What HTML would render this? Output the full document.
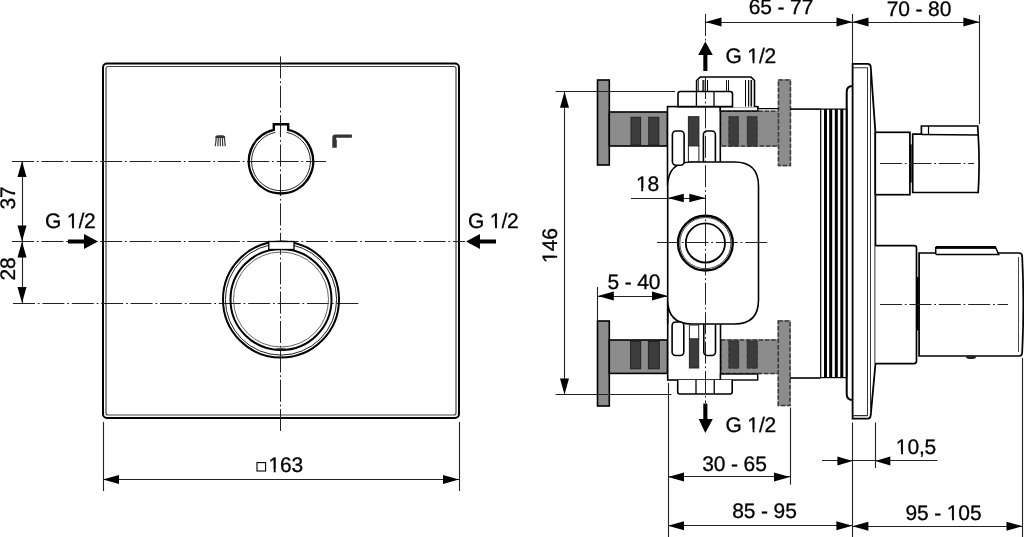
<!DOCTYPE html>
<html><head><meta charset="utf-8"><style>
html,body{margin:0;padding:0;background:#fff;width:1024px;height:537px;overflow:hidden}
svg{display:block;will-change:transform}
text{font-family:"Liberation Sans",sans-serif;fill:#000;stroke:#000;stroke-width:0.3px;letter-spacing:-0.15px;text-rendering:geometricPrecision}
</style></head><body>
<svg width="1024" height="537" viewBox="0 0 1024 537">
<rect x="103" y="63.5" width="356" height="354.5" rx="4" fill="none" stroke="#000" stroke-width="2" />
<rect x="106" y="66.5" width="350" height="348.5" rx="2" fill="none" stroke="#444" stroke-width="1.2" />
<line x1="12" y1="161.5" x2="326" y2="161.5" stroke="#222" stroke-width="1" stroke-dasharray="22 2.8 1.8 2.8" stroke-dashoffset="0"/>
<line x1="12" y1="241.5" x2="465" y2="241.5" stroke="#222" stroke-width="1" stroke-dasharray="22 2.8 1.8 2.8" stroke-dashoffset="0"/>
<line x1="13" y1="303.5" x2="360" y2="303.5" stroke="#222" stroke-width="1" stroke-dasharray="22 2.8 1.8 2.8" stroke-dashoffset="0"/>
<line x1="280.5" y1="56.4" x2="280.5" y2="431" stroke="#222" stroke-width="1" stroke-dasharray="22 2.8 1.8 2.8" stroke-dashoffset="0"/>
<path d="M273.8,129.91529034704956 L273.8,124.2 L288.2,124.2 L288.2,129.91529034704956 A32.2,32.2 0 1 1 273.8,129.91529034704956 Z" fill="none" stroke="#000" stroke-width="2.4"/>
<path d="M286.6,132.43826062067637 A29.4,29.4 0 1 1 275.4,132.43826062067637" fill="none" stroke="#222" stroke-width="1"/>
<circle cx="281" cy="299.5" r="58" fill="none" stroke="#000" stroke-width="2"/>
<circle cx="281" cy="299.5" r="55.6" fill="none" stroke="#222" stroke-width="1"/>
<circle cx="281" cy="299.5" r="50.5" fill="none" stroke="#000" stroke-width="2"/>
<circle cx="281" cy="299.5" r="47.5" fill="none" stroke="#555" stroke-width="0.9"/>
<rect x="268.8" y="241.5" width="25.19999999999999" height="8.0" rx="0" fill="#fff" stroke="#000" stroke-width="1.3" />
<ellipse cx="281" cy="349.6" rx="6" ry="1.4" fill="#111"/>
<path d="M215.2,138 Q215.2,135.2 218,135.2 H222.5 Q225.3,135.2 225.3,138 Z" fill="#333"/>
<line x1="216.3" y1="137.6" x2="215.3" y2="146.2" stroke="#333" stroke-width="1.15"/>
<line x1="218.3" y1="137.6" x2="217.8" y2="146.2" stroke="#333" stroke-width="1.15"/>
<line x1="220.3" y1="137.6" x2="220.3" y2="146.2" stroke="#333" stroke-width="1.15"/>
<line x1="222.3" y1="137.6" x2="222.8" y2="146.2" stroke="#333" stroke-width="1.15"/>
<line x1="224.3" y1="137.6" x2="225.3" y2="146.2" stroke="#333" stroke-width="1.15"/>
<path d="M332.3,147.7 V137.4 Q332.3,134.4 335.3,134.4 H351.9 V137.8 H336.2 V139.8 H336.8 V147.7 Z" fill="#333"/>
<line x1="22.5" y1="161" x2="22.5" y2="303" stroke="#222" stroke-width="1.1" />
<polygon points="22,161 17.5,177 26.5,177" fill="#000"/>
<polygon points="22,241.5 17.5,225.5 26.5,225.5" fill="#000"/>
<polygon points="22,241.5 17.5,257.5 26.5,257.5" fill="#000"/>
<polygon points="22,303 17.5,287 26.5,287" fill="#000"/>
<text x="15" y="198" text-anchor="middle" font-size="21" transform="rotate(-90 15 198)">37</text>
<text x="15" y="269" text-anchor="middle" font-size="21" transform="rotate(-90 15 269)">28</text>
<text x="45" y="228" text-anchor="start" font-size="21">G 1/2</text>
<path d="M68,239.5 H84 V234 L98,241.5 L84,249 V243.5 H68 Z" fill="#000"/>
<text x="468" y="227.5" text-anchor="start" font-size="21">G 1/2</text>
<path d="M496,239.5 H480 V234 L466,241.5 L480,249 V243.5 H496 Z" fill="#000"/>
<line x1="103.5" y1="422" x2="103.5" y2="491" stroke="#222" stroke-width="1.1" />
<line x1="459.5" y1="422" x2="459.5" y2="491" stroke="#222" stroke-width="1.1" />
<line x1="103" y1="479.5" x2="459" y2="479.5" stroke="#222" stroke-width="1.1" />
<polygon points="103,479.5 119,475.0 119,484.0" fill="#000"/>
<polygon points="459,479.5 443,475.0 443,484.0" fill="#000"/>
<rect x="257" y="462.6" width="8.600000000000023" height="8.399999999999977" rx="0" fill="none" stroke="#000" stroke-width="1.1" />
<text x="268.5" y="471.5" text-anchor="start" font-size="21">163</text>
<line x1="705.5" y1="22.5" x2="852.5" y2="22.5" stroke="#222" stroke-width="1.1" />
<polygon points="705.5,22 721.5,17.5 721.5,26.5" fill="#000"/>
<polygon points="852.5,22 836.5,17.5 836.5,26.5" fill="#000"/>
<text x="781" y="14" text-anchor="middle" font-size="21">65 - 77</text>
<line x1="852.5" y1="22.5" x2="979.4" y2="22.5" stroke="#222" stroke-width="1.1" />
<polygon points="852.5,22 868.5,17.5 868.5,26.5" fill="#000"/>
<polygon points="979.4,22 963.4,17.5 963.4,26.5" fill="#000"/>
<text x="919" y="15.5" text-anchor="middle" font-size="21">70 - 80</text>
<line x1="852.5" y1="14" x2="852.5" y2="63" stroke="#222" stroke-width="1.1" />
<line x1="979.5" y1="15" x2="979.5" y2="124" stroke="#222" stroke-width="1.1" />
<line x1="705.5" y1="14" x2="705.5" y2="72" stroke="#222" stroke-width="1" stroke-dasharray="22 2.8 1.8 2.8" stroke-dashoffset="0"/>
<path d="M703.3,71 V55 H698.2 L705.3,41.4 L712.8,55 H707.4 V71 Z" fill="#000"/>
<text x="725.5" y="63.2" text-anchor="start" font-size="21">G 1/2</text>
<line x1="564.5" y1="91.7" x2="564.5" y2="394.5" stroke="#222" stroke-width="1.1" />
<polygon points="564.5,91.7 560.0,107.7 569.0,107.7" fill="#000"/>
<polygon points="564.5,394.5 560.0,378.5 569.0,378.5" fill="#000"/>
<text x="557.3" y="245.6" text-anchor="middle" font-size="21" transform="rotate(-90 557.3 245.6)">146</text>
<rect x="597.5" y="80" width="11.799999999999955" height="85" rx="0" fill="#8c8c8c" stroke="#000" stroke-width="1.6" />
<rect x="597.5" y="321" width="11.799999999999955" height="85" rx="0" fill="#8c8c8c" stroke="#000" stroke-width="1.6" />
<rect x="609.3" y="112" width="58.200000000000045" height="34" rx="0" fill="#8c8c8c" stroke="#000" stroke-width="1.6" />
<rect x="631" y="117.3" width="9.600000000000023" height="27.700000000000003" rx="0" fill="#3c3c3c" stroke="#222" stroke-width="1" />
<rect x="648.8" y="117.3" width="10.0" height="27.700000000000003" rx="0" fill="#3c3c3c" stroke="#222" stroke-width="1" />
<rect x="609.3" y="340" width="58.200000000000045" height="33.39999999999998" rx="0" fill="#8c8c8c" stroke="#000" stroke-width="1.6" />
<rect x="630.6" y="341.4" width="10.100000000000023" height="27.400000000000034" rx="0" fill="#3c3c3c" stroke="#222" stroke-width="1" />
<rect x="648.4" y="341.4" width="10.899999999999977" height="27.400000000000034" rx="0" fill="#3c3c3c" stroke="#222" stroke-width="1" />
<rect x="719.75" y="110.55" width="59.5" height="36.2" fill="#8c8c8c"/>
<rect x="720.5" y="111.3" width="58.0" height="34.7" rx="0" fill="none" stroke="#3a3a3a" stroke-width="1.5" stroke-dasharray="4.5 1.8"/>
<rect x="728.5" y="116.3" width="10.299999999999955" height="30.200000000000003" fill="#3c3c3c"/>
<rect x="729" y="116.8" width="9.299999999999955" height="29.200000000000003" rx="0" fill="none" stroke="#333" stroke-width="1" stroke-dasharray="4.5 1.8"/>
<rect x="746.9" y="116.3" width="10.600000000000023" height="30.200000000000003" fill="#3c3c3c"/>
<rect x="747.4" y="116.8" width="9.600000000000023" height="29.200000000000003" rx="0" fill="none" stroke="#333" stroke-width="1" stroke-dasharray="4.5 1.8"/>
<rect x="720.05" y="339.25" width="59.0" height="34.89999999999998" fill="#8c8c8c"/>
<rect x="720.8" y="340" width="57.5" height="33.39999999999998" rx="0" fill="none" stroke="#3a3a3a" stroke-width="1.5" stroke-dasharray="4.5 1.8"/>
<rect x="728.5" y="340.5" width="10.600000000000023" height="28" fill="#3c3c3c"/>
<rect x="729" y="341" width="9.600000000000023" height="27" rx="0" fill="none" stroke="#333" stroke-width="1" stroke-dasharray="4.5 1.8"/>
<rect x="746.8" y="340.5" width="10.900000000000091" height="28" fill="#3c3c3c"/>
<rect x="747.3" y="341" width="9.900000000000091" height="27" rx="0" fill="none" stroke="#333" stroke-width="1" stroke-dasharray="4.5 1.8"/>
<rect x="777.75" y="79.25" width="13.399999999999977" height="87.1" fill="#8c8c8c"/>
<rect x="778.5" y="80" width="11.899999999999977" height="85.6" rx="0" fill="none" stroke="#3a3a3a" stroke-width="1.5" stroke-dasharray="4.5 1.8"/>
<rect x="777.55" y="320.25" width="13.200000000000045" height="85.89999999999998" fill="#8c8c8c"/>
<rect x="778.3" y="321" width="11.700000000000045" height="84.39999999999998" rx="0" fill="none" stroke="#3a3a3a" stroke-width="1.5" stroke-dasharray="4.5 1.8"/>
<rect x="667.5" y="106.6" width="52.799999999999955" height="78.4" rx="0" fill="#fff" stroke="#000" stroke-width="1.6" />
<rect x="720.3" y="106.6" width="37.60000000000002" height="4.400000000000006" rx="0" fill="#fff" stroke="#000" stroke-width="1.4" />
<path d="M757.9,106.6 V108.6 H778.5" fill="none" stroke="#000" stroke-width="1.4"/>
<line x1="790.4" y1="109.1" x2="820.7" y2="109.1" stroke="#000" stroke-width="1.6" />
<rect x="688.4" y="116.7" width="10.5" height="29.200000000000003" rx="0" fill="#3c3c3c" stroke="#222" stroke-width="1" />
<rect x="688.4" y="145.9" width="10.5" height="16.099999999999994" rx="0" fill="#fff" stroke="#222" stroke-width="1" />
<path d="M696.6,107 V80.5 L700.3,77 H751 L754.5,80.5 V107" fill="#fff" stroke="#000" stroke-width="1.6"/>
<line x1="698.5" y1="80" x2="698.5" y2="106.6" stroke="#222" stroke-width="0.8" />
<line x1="703.4" y1="80" x2="703.4" y2="106.6" stroke="#333" stroke-width="2.2" />
<line x1="707.5" y1="80" x2="707.5" y2="106.6" stroke="#000" stroke-width="1.1" />
<line x1="726.5" y1="80" x2="726.5" y2="106.6" stroke="#111" stroke-width="1" />
<line x1="728.5" y1="80" x2="728.5" y2="106.6" stroke="#111" stroke-width="1" />
<line x1="745.5" y1="80" x2="745.5" y2="106.6" stroke="#000" stroke-width="1" />
<line x1="748.6" y1="80" x2="748.6" y2="106.6" stroke="#111" stroke-width="1.3" />
<line x1="751.3" y1="80" x2="751.3" y2="106.6" stroke="#111" stroke-width="1.6" />
<path d="M678,106.6 V94 Q678,91.5 680.5,91.5 H730 Q732.5,91.5 732.5,94 V106.6 Z" fill="#fff" stroke="#000" stroke-width="1.6"/>
<line x1="696.4" y1="91.5" x2="696.4" y2="106.6" stroke="#000" stroke-width="1.3" />
<line x1="714" y1="91.5" x2="714" y2="106.6" stroke="#000" stroke-width="1.3" />
<rect x="667.7" y="300" width="52.799999999999955" height="80" rx="0" fill="#fff" stroke="#000" stroke-width="1.6" />
<rect x="703.4" y="131" width="12.0" height="44" rx="3.5" fill="#fff" stroke="#000" stroke-width="1.6" />
<rect x="703.8" y="310" width="11.700000000000045" height="45.5" rx="3.5" fill="#fff" stroke="#000" stroke-width="1.6" />
<path d="M667.7,324 V186 Q667.7,162 692,162 H734.5 Q758.5,162 758.5,186 V300 Q758.5,324 734.5,324 H692 Q667.7,324 667.7,300 Z" fill="#fff" stroke="#000" stroke-width="1.6"/>
<rect x="672.4" y="131" width="11.700000000000045" height="34.19999999999999" rx="3.5" fill="#fff" stroke="#000" stroke-width="1.6" />
<circle cx="705.4" cy="243.1" r="27.4" fill="none" stroke="#000" stroke-width="2.4"/>
<circle cx="705.4" cy="243.1" r="25.6" fill="none" stroke="#333" stroke-width="0.9"/>
<circle cx="705.4" cy="242.9" r="19.6" fill="none" stroke="#000" stroke-width="1.8"/>
<line x1="657" y1="242.5" x2="767.5" y2="242.5" stroke="#222" stroke-width="1" stroke-dasharray="22 2.8 1.8 2.8" stroke-dashoffset="0"/>
<rect x="720.5" y="374" width="37.200000000000045" height="6" rx="0" fill="#fff" stroke="#000" stroke-width="1.4" />
<line x1="790" y1="378" x2="820.6" y2="378" stroke="#000" stroke-width="1.6" />
<rect x="689.4" y="325" width="9.300000000000068" height="14" rx="0" fill="#fff" stroke="#222" stroke-width="1" />
<rect x="689.4" y="339" width="9.300000000000068" height="29" rx="0" fill="#3c3c3c" stroke="#222" stroke-width="1" />
<rect x="672.1" y="322" width="11.699999999999932" height="33.5" rx="3.5" fill="#fff" stroke="#000" stroke-width="1.6" />
<path d="M677.7,380 V392 Q677.7,394 679.7,394 H730.2 Q732.2,394 732.2,392 V380" fill="#fff" stroke="#000" stroke-width="1.6"/>
<line x1="696" y1="380" x2="696" y2="394" stroke="#000" stroke-width="1.3" />
<line x1="714.2" y1="380" x2="714.2" y2="394" stroke="#000" stroke-width="1.3" />
<line x1="705.5" y1="77" x2="705.5" y2="403" stroke="#222" stroke-width="1" stroke-dasharray="22 2.8 1.8 2.8" stroke-dashoffset="0"/>
<path d="M703.3,403.5 V419 H698.7 L705.3,433 L712.8,419 H707.4 V403.5 Z" fill="#000"/>
<text x="725.5" y="431.6" text-anchor="start" font-size="21">G 1/2</text>
<line x1="631" y1="198.5" x2="705.3" y2="198.5" stroke="#222" stroke-width="1.1" />
<polygon points="667.8,198 683.8,193.8 683.8,202.2" fill="#000"/>
<polygon points="705.3,198 689.3,193.8 689.3,202.2" fill="#000"/>
<text x="647.5" y="190.6" text-anchor="middle" font-size="21">18</text>
<line x1="597.5" y1="287" x2="597.5" y2="321" stroke="#222" stroke-width="1.1" />
<line x1="597.8" y1="296.5" x2="668" y2="296.5" stroke="#222" stroke-width="1.1" />
<polygon points="597.8,296 613.8,291.5 613.8,300.5" fill="#000"/>
<polygon points="668,296 652,291.5 652,300.5" fill="#000"/>
<text x="634" y="289.4" text-anchor="middle" font-size="21">5 - 40</text>
<rect x="820.7" y="109.1" width="26.0" height="268.5" rx="0" fill="#fff" stroke="#000" stroke-width="1.2" />
<rect x="824" y="109.1" width="3" height="268.5" fill="#000"/>
<rect x="829.2" y="109.1" width="3.0" height="268.5" fill="#000"/>
<rect x="834.8" y="109.1" width="3.0" height="268.5" fill="#000"/>
<rect x="840.3" y="109.1" width="3.0" height="268.5" fill="#000"/>
<line x1="846.7" y1="109.1" x2="846.7" y2="377.6" stroke="#000" stroke-width="2.2" />
<path d="M846.7,109.1 V92 Q846.7,86 852.6,86" fill="none" stroke="#000" stroke-width="2"/>
<path d="M846.7,377.6 V394 Q846.7,400 852.6,400" fill="none" stroke="#000" stroke-width="2"/>
<path d="M852.6,418.6 V63.8 H867.8 Q870.4,63.8 870.7,66.5 L875.4,132 V364.5 L870.7,415.5 Q870.4,418.6 867.8,418.6 Z" fill="#fff" stroke="#000" stroke-width="1.8"/>
<path d="M852.6,67.7 H867.8 M852.6,415.6 H867.8" fill="none" stroke="#333" stroke-width="1.1"/>
<path d="M867.5,67.7 V415.6 M870.5,70 V413" fill="none" stroke="#333" stroke-width="1"/>
<rect x="875.3" y="132.3" width="34.60000000000002" height="62.39999999999998" rx="0" fill="#fff" stroke="#000" stroke-width="1.7" />
<line x1="910.8" y1="144.4" x2="910.8" y2="182.6" stroke="#000" stroke-width="1.8" />
<path d="M912.7,192.5 V134.2 H921.4 V126 H977.7 L978.2,134.8 Q980,163 978.2,192.5 Z" fill="#fff" stroke="#000" stroke-width="1.7"/>
<path d="M921.4,134.4 L978.2,135" stroke="#000" stroke-width="1.5"/>
<line x1="928.5" y1="126" x2="928.5" y2="134.4" stroke="#000" stroke-width="1.2" />
<line x1="880" y1="163.5" x2="974" y2="163.5" stroke="#222" stroke-width="1" stroke-dasharray="22 2.8 1.8 2.8" stroke-dashoffset="0"/>
<path d="M875.3,245.7 H914 Q916.5,245.7 916.5,248 V361 Q916.5,363.6 914,363.6 H875.3" fill="#fff" stroke="#000" stroke-width="1.7"/>
<line x1="917.8" y1="277" x2="917.8" y2="330.4" stroke="#000" stroke-width="2" />
<path d="M919.1,356 V253 H1019 Q1022.2,253 1022.2,257 Q1024.5,304 1022.2,352 Q1022.2,356 1019,356 Z" fill="#fff" stroke="#000" stroke-width="1.7"/>
<line x1="1018.5" y1="257" x2="1018.5" y2="352" stroke="#333" stroke-width="0.9" />
<path d="M936.5,254.4 Q935.7,254.4 935.7,253 V247.8 H995.7 L998.7,254.4 Z" fill="#fff" stroke="#000" stroke-width="1.5"/>
<line x1="935.7" y1="247.4" x2="995.9" y2="247.4" stroke="#000" stroke-width="2.6" />
<ellipse cx="971" cy="357.2" rx="5" ry="1.8" fill="#222"/>
<line x1="880" y1="304.5" x2="1008" y2="304.5" stroke="#222" stroke-width="1" stroke-dasharray="22 2.8 1.8 2.8" stroke-dashoffset="0"/>
<line x1="555.6" y1="91.5" x2="675" y2="91.5" stroke="#222" stroke-width="1.1" />
<line x1="555.6" y1="394.5" x2="671.6" y2="394.5" stroke="#222" stroke-width="1.1" />
<line x1="668.5" y1="383" x2="668.5" y2="537" stroke="#222" stroke-width="1.1" />
<line x1="790.5" y1="407.6" x2="790.5" y2="484.7" stroke="#222" stroke-width="1.1" />
<line x1="668" y1="476.5" x2="790" y2="476.5" stroke="#222" stroke-width="1.1" />
<polygon points="668,476.9 684,472.4 684,481.4" fill="#000"/>
<polygon points="790,476.9 774,472.4 774,481.4" fill="#000"/>
<text x="734.5" y="471.3" text-anchor="middle" font-size="21">30 - 65</text>
<line x1="668" y1="525.5" x2="852.4" y2="525.5" stroke="#222" stroke-width="1.1" />
<polygon points="668,525.8 684,521.3 684,530.3" fill="#000"/>
<polygon points="852.4,525.8 836.4,521.3 836.4,530.3" fill="#000"/>
<text x="764.5" y="518.4" text-anchor="middle" font-size="21">85 - 95</text>
<line x1="852.5" y1="422.5" x2="852.5" y2="537" stroke="#222" stroke-width="1.1" />
<line x1="875.5" y1="422.5" x2="875.5" y2="468" stroke="#222" stroke-width="1.1" />
<line x1="822" y1="460.5" x2="937.5" y2="460.5" stroke="#222" stroke-width="1.1" />
<polygon points="852.4,460.9 837.4,456.4 837.4,465.4" fill="#000"/>
<polygon points="875.3,460.9 890.3,456.4 890.3,465.4" fill="#000"/>
<text x="916" y="453.6" text-anchor="middle" font-size="21">10,5</text>
<line x1="1022.5" y1="358" x2="1022.5" y2="537" stroke="#222" stroke-width="1.1" />
<line x1="852.4" y1="526.5" x2="1022.5" y2="526.5" stroke="#222" stroke-width="1.1" />
<polygon points="852.4,526.2 868.4,521.7 868.4,530.7" fill="#000"/>
<polygon points="1022.5,526.2 1006.5,521.7 1006.5,530.7" fill="#000"/>
<text x="943.5" y="520.3" text-anchor="middle" font-size="21">95 - 105</text>
<rect x="67.46" y="225.60" width="4.65" height="4.10" fill="#fff"/><rect x="74.01" y="225.60" width="4.46" height="4.10" fill="#fff"/>
<rect x="490.46" y="225.10" width="4.65" height="4.10" fill="#fff"/><rect x="497.01" y="225.10" width="4.46" height="4.10" fill="#fff"/>
<rect x="269.10" y="469.10" width="4.65" height="4.10" fill="#fff"/><rect x="275.65" y="469.10" width="4.46" height="4.10" fill="#fff"/>
<rect x="747.96" y="60.80" width="4.65" height="4.10" fill="#fff"/><rect x="754.51" y="60.80" width="4.46" height="4.10" fill="#fff"/>
<g transform="rotate(-90 557.3 245.6)"><rect x="540.60" y="243.20" width="4.65" height="4.10" fill="#fff"/><rect x="547.15" y="243.20" width="4.46" height="4.10" fill="#fff"/></g>
<rect x="747.96" y="429.20" width="4.65" height="4.10" fill="#fff"/><rect x="754.51" y="429.20" width="4.46" height="4.10" fill="#fff"/>
<rect x="636.56" y="188.20" width="4.65" height="4.10" fill="#fff"/><rect x="643.12" y="188.20" width="4.46" height="4.10" fill="#fff"/>
<rect x="896.46" y="451.20" width="4.65" height="4.10" fill="#fff"/><rect x="903.01" y="451.20" width="4.46" height="4.10" fill="#fff"/>
<rect x="947.43" y="517.90" width="4.65" height="4.10" fill="#fff"/><rect x="953.98" y="517.90" width="4.46" height="4.10" fill="#fff"/>
</svg>
</body></html>
